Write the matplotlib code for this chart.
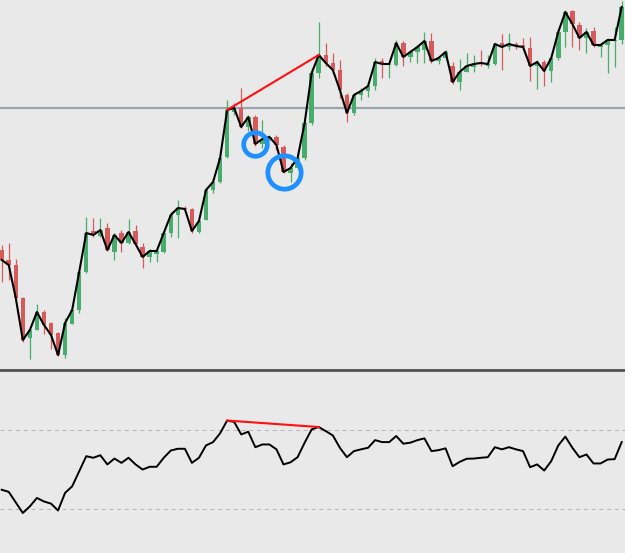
import matplotlib
matplotlib.use("Agg")
import matplotlib.pyplot as plt
import numpy as np

# Price data (points), one candle per bar
opens = [120, 110, 105, 72, 32, 40, 58, 47, 37, 15, 46, 60, 98, 139, 134, 142, 118, 137, 127, 139,
         123, 113, 116, 118, 137, 155, 162, 161, 138, 150, 180, 188, 213, 258, 262, 243, 253, 226, 231, 233,
         223, 197, 202, 212, 247, 297, 315, 307, 300, 275, 257, 275, 279, 284, 309, 305, 305, 327, 313, 318,
         320, 329, 309, 312, 304, 288, 298, 303, 308, 304, 306, 327, 323, 326, 325, 322, 304, 308, 299, 312,
         338, 359, 345, 332, 339, 323, 325, 329, 330]
highs = [125, 127, 111, 73, 43, 66, 60, 48, 38, 52, 63, 100, 153, 152, 152, 147, 137, 140, 151, 145,
         127, 121, 121, 138, 158, 170, 164, 162, 151, 182, 192, 215, 270, 267, 282, 255, 255, 250, 235, 235,
         225, 207, 220, 250, 302, 348, 327, 317, 310, 277, 277, 282, 287, 312, 312, 308, 330, 329, 320, 325,
         338, 337, 314, 320, 308, 311, 317, 315, 320, 315, 327, 336, 337, 328, 332, 333, 310, 310, 314, 342,
         360, 360, 348, 342, 343, 326, 332, 343, 369]
lows = [88, 90, 70, 28, 11, 40, 36, 21, 14, 12, 46, 57, 97, 133, 133, 119, 110, 118, 126, 125,
        102, 108, 108, 117, 133, 132, 158, 137, 137, 150, 177, 187, 212, 255, 242, 239, 224, 222, 229, 220,
        197, 188, 200, 210, 245, 292, 304, 298, 272, 248, 255, 270, 273, 280, 292, 292, 304, 304, 308, 307,
        307, 307, 306, 310, 286, 280, 298, 298, 304, 302, 305, 300, 320, 321, 320, 289, 281, 284, 288, 310,
        323, 323, 320, 317, 323, 313, 297, 303, 326]
closes = [110, 105, 72, 30, 40, 58, 45, 35, 15, 47, 60, 98, 137, 135, 140, 120, 135, 127, 138, 126,
          113, 119, 119, 137, 155, 162, 161, 139, 149, 180, 188, 212, 260, 262, 243, 253, 226, 231, 233, 225,
          198, 202, 212, 247, 297, 315, 307, 300, 280, 257, 275, 279, 284, 308, 306, 306, 327, 313, 318, 323,
          329, 309, 312, 318, 288, 298, 304, 306, 307, 306, 326, 323, 326, 324, 323, 304, 308, 299, 312, 338,
          358, 346, 332, 338, 325, 325, 330, 330, 363]

# Oscillator (RSI-like) values
osc = [39.7, 38.6, 33.2, 27.8, 31.2, 35.5, 33.7, 32.6, 29.1, 38.1, 41.4, 49.1, 56.8, 56.0, 57.3, 52.6,
       55.6, 53.4, 56.0, 52.6, 50.0, 51.4, 51.4, 56.0, 59.7, 60.6, 60.6, 53.4, 56.0, 62.3, 64.0, 68.5,
       75.0, 74.3, 67.9, 69.3, 61.4, 62.8, 62.8, 60.3, 52.6, 53.7, 56.3, 63.7, 70.5, 71.7, 69.6, 67.4,
       61.1, 56.3, 59.4, 60.3, 61.1, 65.0, 64.0, 64.0, 67.1, 63.2, 63.7, 65.0, 65.9, 59.4, 59.9, 60.8,
       51.7, 53.9, 55.5, 55.6, 56.0, 56.3, 61.4, 60.3, 61.4, 60.3, 59.4, 51.2, 52.6, 49.5, 54.3, 62.3,
       66.8, 61.1, 56.3, 57.7, 53.1, 53.1, 55.1, 55.3, 64.0]

level_price = 262          # horizontal line on price panel
osc_levels = [70, 30]      # dashed levels on oscillator
trend_idx = (32, 45)       # divergence: from bar 32 to bar 45
circle_idx = [36, 40]      # marked lows

BG = "#e9e9e9"
GREEN = "#47ad6c"
RED = "#d65a5a"

o = np.array(opens)
h = np.array(highs)
l = np.array(lows)
c = np.array(closes)
x = np.arange(len(c))
up = c >= o

fig = plt.figure(figsize=(6.25, 5.53), dpi=100)
fig.patch.set_facecolor(BG)
ax = fig.add_axes([0, 184.5 / 553, 1, 368.5 / 553])
ax2 = fig.add_axes([0, 0, 1, 183 / 553])

for a in (ax, ax2):
    a.set_facecolor(BG)
    a.set_xticks([])
    a.set_yticks([])
    a.set_xlim(-0.24, 88.47)
    for s in a.spines.values():
        s.set_visible(False)

# price panel
ax.axhline(level_price, color="#9ba5ae", lw=1.6, zorder=1)
colors = np.where(up, GREEN, RED)
ax.vlines(x, l, h, colors=colors, lw=0.9, zorder=2)
body = np.maximum(np.abs(c - o), 0.8)
ax.bar(x, body, bottom=np.minimum(o, c), width=0.64, color=colors, lw=0, zorder=3)
ax.plot(x, c, color="black", lw=1.5, zorder=4)
i0, i1 = trend_idx
ax.plot([i0, i1], [c[i0], c[i1]], color="#ff1010", lw=1.5, zorder=5)
ax.plot(circle_idx[0], c[circle_idx[0]], "o", ms=17, mfc="none", mec="#1e90ff", mew=3.4, zorder=6)
ax.plot(circle_idx[1], c[circle_idx[1]], "o", ms=24, mfc="none", mec="#1e90ff", mew=3.4, zorder=6)
ax.set_ylim(1.5, 370)
ax.spines["bottom"].set_visible(True)
ax.spines["bottom"].set_color("#bdbdbd")
ax.spines["bottom"].set_linewidth(0.8)

# oscillator panel
for lv in osc_levels:
    ax2.axhline(lv, color="#b5b5b5", lw=0.7, ls=(0, (4, 4)), zorder=1)
ax2.plot(x, osc, color="black", lw=1.4, zorder=3)
ax2.plot([i0, i1], [osc[i0], osc[i1]], color="#ff1010", lw=1.5, zorder=4)
ax2.set_ylim(7.4, 100.8)
ax2.spines["top"].set_visible(True)
ax2.spines["top"].set_color("#555555")
ax2.spines["top"].set_linewidth(2)

fig.savefig("out.png", dpi=100, facecolor=BG)
